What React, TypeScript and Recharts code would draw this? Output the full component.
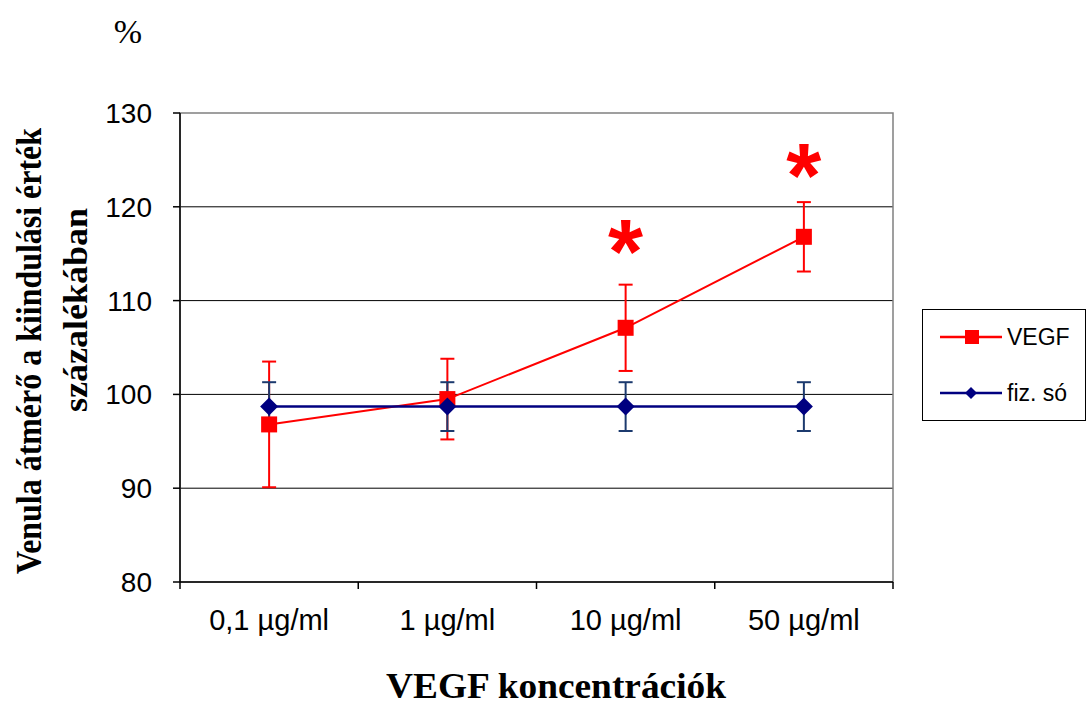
import { LineChart, Line, XAxis, YAxis, CartesianGrid, ErrorBar, Legend, ReferenceDot, ReferenceArea, Label } from 'recharts';

// concentrations on the x axis
const categories = ['0,1 µg/ml', '1 µg/ml', '10 µg/ml', '50 µg/ml'];

// VEGF series (mean, +/- error)
const vegf = [96.8, 99.5, 107.1, 116.8];
const vegfErr = [6.7, 4.3, 4.6, 3.7];

// saline control (fiz. só)
const saline = [98.7, 98.7, 98.7, 98.7];
const salineErr = [2.6, 2.6, 2.6, 2.6];

const yTicks = [80, 90, 100, 110, 120, 130];
const gridValues = [90, 100, 110, 120];

// significance stars: category + level (in % units)
const starCats = ['10 µg/ml', '50 µg/ml'];
const starLevels = [116.7, 124.8];

const seriesNames = ['VEGF', 'fiz. só'];

const RED = '#ff0000';
const NAVY = '#000080';
const NAVY_ERR = '#1c3a6e';
const SANS = '"Liberation Sans", Arial, sans-serif';
const SERIF = '"Liberation Serif", "Times New Roman", serif';

const PLOT = { left: 180, right: 893, top: 113, bottom: 582 };
const LEGEND_W = 164;
const band = (PLOT.right - PLOT.left) / categories.length;

const data = categories.map((c, i) => ({
  cat: c,
  vegf: vegf[i],
  vegfErr: vegfErr[i],
  so: saline[i],
  soErr: salineErr[i],
}));

const stars = starCats.map((c, i) => ({ cat: c, level: starLevels[i] }));

const SquareDot = (p: any) => {
  if (p.cx == null || p.cy == null) return null;
  return <rect key={`sq-${p.index}`} x={p.cx - 8} y={p.cy - 8} width={16} height={16} fill={RED} />;
};

const DiamondDot = (p: any) => {
  if (p.cx == null || p.cy == null) return null;
  const { cx, cy } = p;
  return (
    <polygon
      key={`dm-${p.index}`}
      points={`${cx},${cy - 9} ${cx + 9},${cy} ${cx},${cy + 9} ${cx - 9},${cy}`}
      fill={NAVY}
    />
  );
};

// excel-style category axis: tick marks between categories, labels centred
const XTick = ({ x, y, payload, index }: any) => (
  <g>
    <line x1={x - band / 2} x2={x - band / 2} y1={y} y2={y + 7} stroke="#000" strokeWidth={1.5} />
    {index === categories.length - 1 && (
      <line x1={x + band / 2} x2={x + band / 2} y1={y} y2={y + 7} stroke="#000" strokeWidth={1.5} />
    )}
    <text x={x} y={y + 48} textAnchor="middle" fontSize={29} fontFamily={SANS} fill="#000">
      {payload.value}
    </text>
  </g>
);

const Star = (p: any) => (
  <text x={p.cx} y={p.cy + 45} textAnchor="middle" fontSize={90} fontWeight="bold" fontFamily={SANS} fill={RED}>
    *
  </text>
);

const LegendBox = () => (
  <svg width={LEGEND_W} height={112} style={{ display: 'block' }}>
    <rect x={0.5} y={0.5} width={LEGEND_W - 1} height={111} fill="#fff" stroke="#000" />
    {seriesNames.map((name, i) => {
      const cy = i === 0 ? 28 : 84;
      return (
        <g key={name}>
          <line x1={18} x2={80} y1={cy} y2={cy} stroke={i === 0 ? RED : NAVY} strokeWidth={2.5} />
          {i === 0 ? (
            <rect x={43} y={cy - 7} width={14} height={14} fill={RED} />
          ) : (
            <polygon points={`49,${cy - 6} 55,${cy} 49,${cy + 6} 43,${cy}`} fill={NAVY} />
          )}
          <text x={85} y={cy + 8} fontSize={23} fontFamily={SANS} fill="#000">
            {name}
          </text>
        </g>
      );
    })}
  </svg>
);

export default function App() {
  return (
    <div style={{ position: 'absolute', left: 0, top: 0, width: 1086, height: 705, background: '#fff' }}>
      <LineChart
        width={1086}
        height={705}
        data={data}
        margin={{ top: PLOT.top, right: 1086 - PLOT.right - LEGEND_W, bottom: 0, left: 100 }}
      >
        <ReferenceArea y1={80} y2={130} fill="none" stroke="#808080" strokeWidth={1.5} ifOverflow="visible" />
        <CartesianGrid horizontal vertical={false} horizontalValues={gridValues} stroke="#000" strokeWidth={1} />
        <XAxis
          dataKey="cat"
          scale="band"
          height={705 - PLOT.bottom}
          axisLine={{ stroke: '#000', strokeWidth: 1.5 }}
          tickLine={false}
          tickSize={0}
          tickMargin={0}
          interval={0}
          tick={<XTick />}
        >
          <Label
            content={() => (
              <text
                x={556}
                y={698}
                textAnchor="middle"
                fontSize={36}
                fontWeight="bold"
                fontFamily={SERIF}
                fill="#000"
                textLength={340}
                lengthAdjust="spacingAndGlyphs"
              >
                VEGF koncentrációk
              </text>
            )}
          />
        </XAxis>
        <YAxis
          width={80}
          domain={[80, 130]}
          ticks={yTicks}
          interval={0}
          axisLine={{ stroke: '#000', strokeWidth: 1.5 }}
          tickLine={{ stroke: '#000', strokeWidth: 1.5 }}
          tickSize={7}
          tickMargin={21}
          tick={{ fontSize: 28, fill: '#000', fontFamily: SANS }}
        >
          <Label
            content={() => (
              <g fontFamily={SERIF} fill="#000">
                <text x={128} y={43} textAnchor="middle" fontSize={34}>
                  %
                </text>
                <text
                  x={29}
                  y={351}
                  transform="rotate(-90 29 351)"
                  textAnchor="middle"
                  dominantBaseline="central"
                  fontSize={35}
                  fontWeight="bold"
                  textLength={446}
                  lengthAdjust="spacingAndGlyphs"
                >
                  Venula átmérő a kiindulási érték
                </text>
                <text
                  x={75}
                  y={310}
                  transform="rotate(-90 75 310)"
                  textAnchor="middle"
                  dominantBaseline="central"
                  fontSize={34}
                  fontWeight="bold"
                  textLength={204}
                  lengthAdjust="spacingAndGlyphs"
                >
                  százalékában
                </text>
              </g>
            )}
          />
        </YAxis>
        <Legend
          layout="vertical"
          align="right"
          verticalAlign="middle"
          wrapperStyle={{ left: 922, top: 309, right: 'auto', width: LEGEND_W, height: 112 }}
          content={() => <LegendBox />}
        />
        <Line
          dataKey="vegf"
          name="VEGF"
          stroke={RED}
          strokeWidth={2}
          dot={<SquareDot />}
          activeDot={false}
          isAnimationActive={false}
        >
          <ErrorBar dataKey="vegfErr" width={7} stroke={RED} strokeWidth={2} direction="y" />
        </Line>
        <Line
          dataKey="so"
          name="fiz. só"
          stroke={NAVY}
          strokeWidth={2.5}
          dot={<DiamondDot />}
          activeDot={false}
          isAnimationActive={false}
        >
          <ErrorBar dataKey="soErr" width={7} stroke={NAVY_ERR} strokeWidth={2} direction="y" />
        </Line>
        {stars.map((s) => (
          <ReferenceDot key={s.cat} x={s.cat} y={s.level} r={0} shape={<Star />} ifOverflow="visible" />
        ))}
      </LineChart>
    </div>
  );
}
